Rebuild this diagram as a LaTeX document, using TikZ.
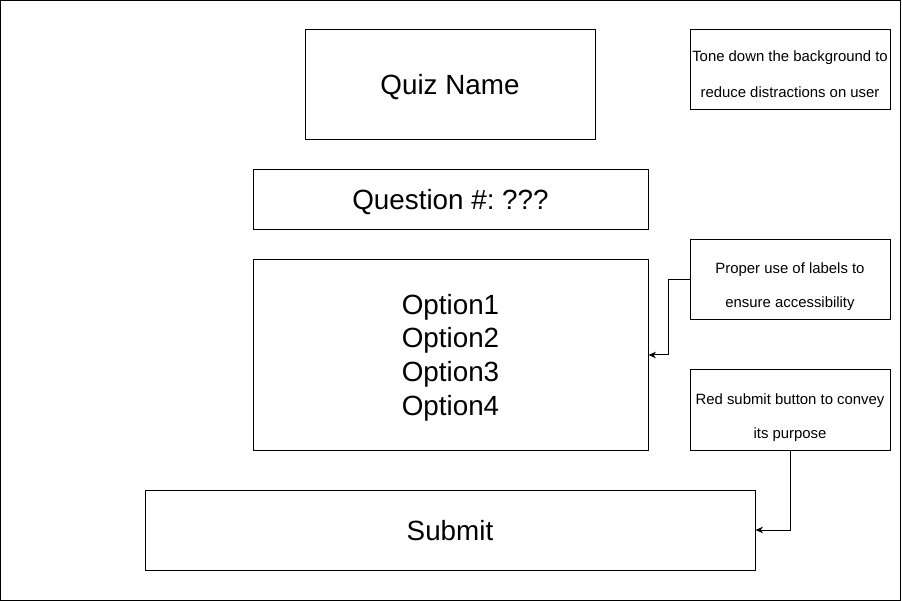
\documentclass[tikz,border=0pt]{standalone}
\usepackage{fontspec}
\setmainfont{Liberation Sans}
\usetikzlibrary{arrows.meta}
\frenchspacing
\begin{document}
\begin{tikzpicture}[x=1pt,y=-1pt,line width=1pt,
  box/.style={draw,inner sep=0pt,font=\fontsize{27.8}{33.7}\selectfont,align=center,text height=20pt,text depth=0pt},
  bigtext/.style={inner sep=0pt,font=\fontsize{27.8}{33.7}\selectfont,align=center},
  note/.style={draw,inner sep=0pt,minimum width=200pt,minimum height=80pt},
  notetext/.style={anchor=base,inner sep=0pt,font=\fontsize{14.9}{17}\selectfont},
  arr/.style={-{Stealth[length=7.5pt,width=6.5pt]}}]
\frenchspacing
\useasboundingbox (0,0) rectangle (902,601);
\draw (0.5,0.5) rectangle (900.5,600.5);
\node[box,minimum width=290pt,minimum height=110pt] (quiz) at (450,85) {Quiz Name};
\node[box,minimum width=395pt,minimum height=60pt] (question) at (450.5,200) {Question \#: ???};
\node[draw,inner sep=0pt,minimum width=395pt,minimum height=190pt] (options) at (450.5,355) {};
\node[bigtext] (optext) at (450.5,357.5) {Option1\\Option2\\Option3\\Option4};
\node[box,minimum width=610pt,minimum height=80pt] (submit) at (450,530) {Submit};
\node[note] (note1) at (790,70) {};
\node[note] (note2) at (790,280) {};
\node[note] (note3) at (790,410) {};
\node[notetext] (n1a) at (790,62) {Tone down the background to};
\node[notetext] (n1b) at (790,98) {reduce distractions on user};
\node[notetext] (n2a) at (790,273.5) {Proper use of labels to};
\node[notetext] (n2b) at (790,308) {ensure accessibility};
\node[notetext] (n3a) at (790,404) {Red submit button to convey};
\node[notetext] (n3b) at (790,438) {its purpose};
\draw[arr] (note2.west) -- ++(-21,0) |- (options.east);
\draw[arr] (note3.south) |- (submit.east);
\end{tikzpicture}
\end{document}
